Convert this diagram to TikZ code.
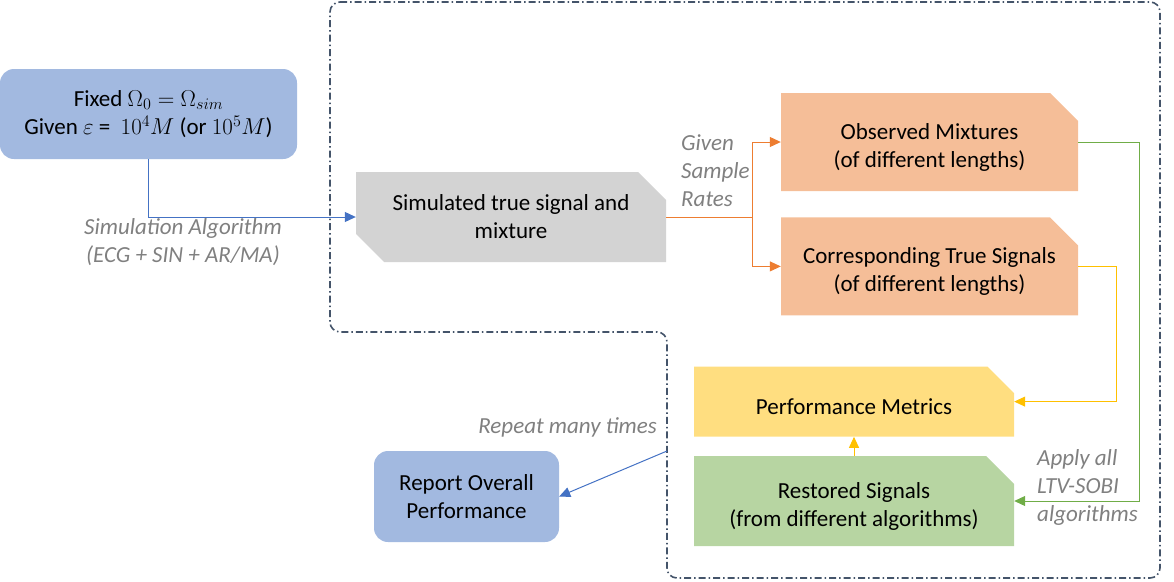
\RequirePackage{fix-cm}
\documentclass[tikz,border=0pt]{standalone}
\usepackage{amsmath}
\usepackage{fontspec}
\setmainfont{Carlito}
\usepackage{tikz}
\usetikzlibrary{shapes.misc,arrows.meta,positioning}
\newcommand{\boxfont}{\fontsize{23}{28}\selectfont}
\tikzset{
  inbox/.style={rectangle, rounded corners=14pt, fill=inblue, align=center, font=\boxfont, inner sep=0pt},
  snipbox/.style={chamfered rectangle, chamfered rectangle corners=north east, chamfered rectangle xsep=14pt, chamfered rectangle ysep=14pt, align=center, font=\boxfont, inner sep=0pt},
  simbox/.style={snipbox, fill=simgray, chamfered rectangle corners={north east,south west}},
  outbox/.style={snipbox, fill=outorange, minimum width=297pt, minimum height=98pt, text height=56pt, text depth=5pt},
  notelabel/.style={font=\boxfont\itshape, text=notegray, inner sep=0pt},
  farrow/.style={-{Triangle[length=11pt,width=10pt]}, line width=1pt},
  loopframe/.style={draw=framenavy, line width=1.6pt, dash pattern=on 7pt off 3pt on 1.5pt off 3pt, rounded corners=10pt}
}
\definecolor{inblue}{RGB}{162,185,224}
\definecolor{simgray}{RGB}{211,211,211}
\definecolor{outorange}{RGB}{245,190,152}
\definecolor{metricyellow}{RGB}{255,222,128}
\definecolor{restgreen}{RGB}{183,213,162}
\definecolor{lineblue}{RGB}{68,114,196}
\definecolor{lineorange}{RGB}{237,125,49}
\definecolor{linegreen}{RGB}{112,173,71}
\definecolor{lineyellow}{RGB}{255,192,0}
\definecolor{notegray}{RGB}{128,128,128}
\definecolor{framenavy}{RGB}{68,84,106}

\begin{document}
\begin{tikzpicture}[x=1pt, y=-1pt]
\useasboundingbox (0,0) rectangle (1174,581);
% dashed loop region
\draw[loopframe] (330,2) -- (1160,2) -- (1160,578) -- (667,578) -- (667,332) -- (330,332) -- cycle;
% boxes
\node[inbox, minimum width=297pt, minimum height=90pt] (spec) at (148.5,114) {Fixed $\Omega_0=\Omega_{sim}$\\Given $\varepsilon$ =\ \ $10^4M$ (or $10^5M$)};
\node[simbox, minimum width=310pt, minimum height=90pt] (sim) at (511,217) {Simulated true signal and\\mixture};
\node[outbox] (obs) at (929.5,142) {Observed Mixtures\\(of different lengths)};
\node[outbox, below=26pt of obs] (truesig) {Corresponding True Signals\\(of different lengths)};
\node[snipbox, fill=restgreen, minimum width=320pt, minimum height=90pt, text height=56pt, text depth=5pt] (restored) at (854,501) {Restored Signals\\(from different algorithms)};
\node[snipbox, fill=metricyellow, minimum width=320pt, minimum height=70pt, text height=25pt, text depth=0pt, above=19pt of restored] (metric) {Performance Metrics};
\node[inbox, minimum width=185pt, minimum height=91pt] (report) at (466.5,496.5) {Report Overall\\Performance};
% labels
\node[notelabel, align=center] (simalg) at (183,242) {Simulation Algorithm\\(ECG + SIN + AR/MA)};
\node[notelabel, align=left, anchor=west] (rates) at (681,171) {Given\\Sample\\Rates};
\node[notelabel, anchor=east] (repeat) at (657,427) {Repeat many times};
\node[notelabel, align=left, anchor=west] (apply) at (1037,487) {Apply all\\LTV-SOBI\\algorithms};
% connectors
\coordinate[right=86pt of sim.east] (split);
\coordinate (loopexit) at (667,451);
\draw[farrow, lineblue] (spec.south) |- (sim.west);
\draw[line width=1pt, lineorange] (sim.east) -- (split);
\draw[farrow, lineorange] (split) |- (obs.west);
\draw[farrow, lineorange] (split) |- (truesig.west);
\draw[farrow, linegreen] (obs.east) -- ++(61,0) |- (restored.east);
\draw[farrow, lineyellow] (truesig.east) -- ++(38,0) |- (metric.east);
\draw[farrow, lineyellow] (restored.north) -- (metric.south);
\draw[farrow, lineblue] (loopexit) -- (report.east);
\end{tikzpicture}
\end{document}
